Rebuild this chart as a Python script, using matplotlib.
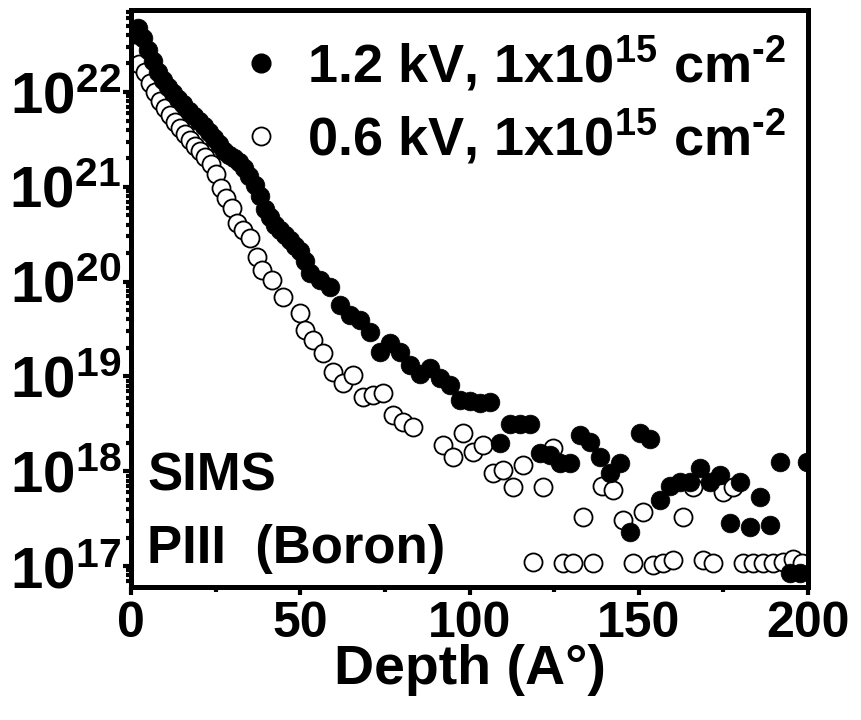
import matplotlib
matplotlib.use('Agg')
import matplotlib.pyplot as plt
import numpy as np
from matplotlib.ticker import FixedLocator, LogLocator, NullFormatter, FuncFormatter
from matplotlib.lines import Line2D

plt.rcParams['font.family'] = ['Liberation Sans', 'DejaVu Sans']
plt.rcParams['font.weight'] = 'bold'
plt.rcParams['mathtext.fontset'] = 'custom'
plt.rcParams['mathtext.rm'] = 'Liberation Sans:bold'
plt.rcParams['mathtext.bf'] = 'Liberation Sans:bold'
plt.rcParams['mathtext.default'] = 'bf'

# 1.2 kV profile: depth (A) and log10 of concentration (cm-3)
depth_12 = [0.5, 2.0, 3.5, 5.0, 6.5, 8.0, 9.5, 11.0, 12.5, 14.0, 15.5, 17.0,
            18.5, 20.0, 21.5, 23.0, 24.5, 26.0, 27.5, 29.0, 30.5, 32.0, 33.5, 35.0,
            36.5, 38.0, 39.5, 41.0, 42.5, 44.0, 45.5, 47.0, 48.5, 50.0, 51.5, 53.0,
            55.8, 58.8, 61.7, 64.7, 67.6,
            70.6, 73.6, 76.5, 79.5, 82.4, 85.4, 88.3, 91.3, 94.2, 97.2, 100.1, 103.1,
            106.1, 109.0, 112.0, 114.9, 117.9, 120.8, 123.8, 126.7, 129.7, 132.6, 135.6,
            138.6, 141.5, 144.5, 147.4, 150.4, 153.3, 156.3, 159.2, 162.2, 165.1, 168.1,
            171.0, 174.0, 177.0, 179.9, 182.8, 185.8, 188.7, 191.7, 194.7, 197.6, 199.7]
logc_12 = [22.62, 22.68, 22.57, 22.44, 22.33, 22.21, 22.13, 22.05, 21.99, 21.93, 21.87, 21.80,
           21.75, 21.69, 21.64, 21.58, 21.52, 21.45, 21.38, 21.34, 21.30, 21.26, 21.20, 21.11,
           21.02, 20.90, 20.77, 20.68, 20.60, 20.54, 20.49, 20.44, 20.38, 20.32, 20.22, 20.09,
           20.02, 19.94, 19.75, 19.65, 19.60,
           19.47, 19.26, 19.35, 19.26, 19.12, 19.03, 19.09, 18.98, 18.91, 18.75, 18.74, 18.72,
           18.73, 18.30, 18.50, 18.50, 18.50, 18.19, 18.17, 18.09, 18.09, 18.38, 18.31,
           18.15, 17.98, 18.09, 17.36, 18.40, 18.34, 17.70, 17.85, 17.89, 17.89, 18.04,
           17.89, 17.96, 17.45, 17.89, 17.41, 17.73, 17.43, 18.10, 16.93, 16.93, 18.10]

# 0.6 kV profile
depth_06 = [1.0, 2.5, 4.0, 5.5, 7.0, 8.5, 10.0, 11.5, 13.0, 14.5, 16.0, 17.5,
            19.0, 20.5, 22.0, 23.5, 25.0, 26.5, 28.0, 29.8, 31.3, 33.1, 35.2, 37.2,
            38.7, 41.7, 44.9, 49.9, 51.4, 53.8,
            56.7, 59.7, 62.6, 65.6, 68.5, 71.5, 74.5, 77.4, 80.4, 83.3, 92.1, 95.1,
            98.1, 101.0, 104.0, 106.9, 109.9, 112.9, 115.8, 118.8, 121.7, 124.7, 127.6,
            130.6, 133.5, 136.5, 139.1, 142.4, 145.4, 148.3, 151.3, 154.2, 157.2, 160.1,
            163.1, 166.0, 169.0, 171.9, 174.9, 177.8, 180.8, 183.8, 186.7, 189.7, 192.6,
            195.6, 198.2]
logc_06 = [22.42, 22.30, 22.21, 22.10, 22.00, 21.91, 21.83, 21.76, 21.68, 21.62, 21.56, 21.49,
           21.43, 21.38, 21.31, 21.24, 21.14, 20.99, 20.88, 20.78, 20.62, 20.54, 20.46, 20.26,
           20.12, 20.02, 19.84, 19.67, 19.49, 19.38,
           19.25, 19.05, 18.93, 19.02, 18.78, 18.80, 18.83, 18.59, 18.52, 18.47, 18.28, 18.15,
           18.40, 18.20, 18.28, 17.98, 18.01, 17.83, 18.07, 17.04, 17.83, 18.25, 17.03,
           17.03, 17.52, 17.03, 17.85, 17.80, 17.49, 17.03, 17.57, 17.01, 17.03, 17.06,
           17.52, 17.83, 17.06, 17.03, 17.78, 17.83, 17.03, 17.03, 17.03, 17.03, 17.04,
           17.08, 17.03]

labels = [r'1.2 kV, 1x10$^{15}$ cm$^{\text{-}2}$', r'0.6 kV, 1x10$^{15}$ cm$^{\text{-}2}$']
y_decades = [17, 18, 19, 20, 21, 22]
x_major = [0, 50, 100, 150, 200]
x_minor = [25, 75, 125, 175]

conc_12 = np.power(10.0, logc_12)
conc_06 = np.power(10.0, logc_06)

fig = plt.figure(figsize=(8.61, 7.2), dpi=100)
ax = fig.add_axes([131/861, 133/720, 677/861, 577/720])

ax.plot(depth_06, conc_06, 'o', ms=13, mfc='white', mec='black', mew=1.3, ls='none')
ax.plot(depth_12, conc_12, 'o', ms=13.5, mfc='black', mec='black', mew=0.5, ls='none')

ax.set_yscale('log')
ax.set_xlim(0, 200)
ax.set_ylim(10**16.78, 10**22.865)

for s in ax.spines.values():
    s.set_linewidth(3.6)

# only ticks inside the visible range, so no stray labels exist off-canvas
y_minor = [m * 10.0**d for d in range(16, 23) for m in range(2, 10)
           if 10**16.78 <= m * 10.0**d <= 10**22.865]
ax.xaxis.set_major_locator(FixedLocator(x_major))
ax.xaxis.set_minor_locator(FixedLocator(x_minor))
ax.yaxis.set_major_locator(FixedLocator([10.0**d for d in y_decades]))
ax.yaxis.set_minor_locator(FixedLocator(y_minor))
ax.yaxis.set_minor_formatter(NullFormatter())
ax.yaxis.set_major_formatter(FuncFormatter(lambda v, p: '$10^{%d}$' % round(np.log10(v))))

ax.tick_params(axis='both', which='major', direction='out', length=6, width=3, pad=4)
ax.tick_params(axis='both', which='minor', direction='out', length=3.5, width=3)
ax.tick_params(axis='x', which='major', labelsize=36)
ax.tick_params(axis='y', which='major', labelsize=42, pad=1)

ax.set_xlabel('Depth (A°)', fontsize=40, fontweight='bold', labelpad=-2)

handles = [Line2D([], [], marker='o', ls='none', ms=13.5, mfc='black', mec='black'),
           Line2D([], [], marker='o', ls='none', ms=13, mfc='white', mec='black', mew=1.3)]
ax.legend(handles, labels, loc='upper right', frameon=False, fontsize=39,
          handlelength=1.0, handletextpad=0.35, borderaxespad=0.1, labelspacing=0.25,
          bbox_to_anchor=(1.008, 1.005))

ax.text(0.024, 0.168, 'SIMS', transform=ax.transAxes, fontsize=38,
        fontweight='bold', va='baseline')
ax.text(0.024, 0.042, 'PIII  (Boron)', transform=ax.transAxes, fontsize=38,
        fontweight='bold', va='baseline')

fig.savefig('out.png', dpi=100)
